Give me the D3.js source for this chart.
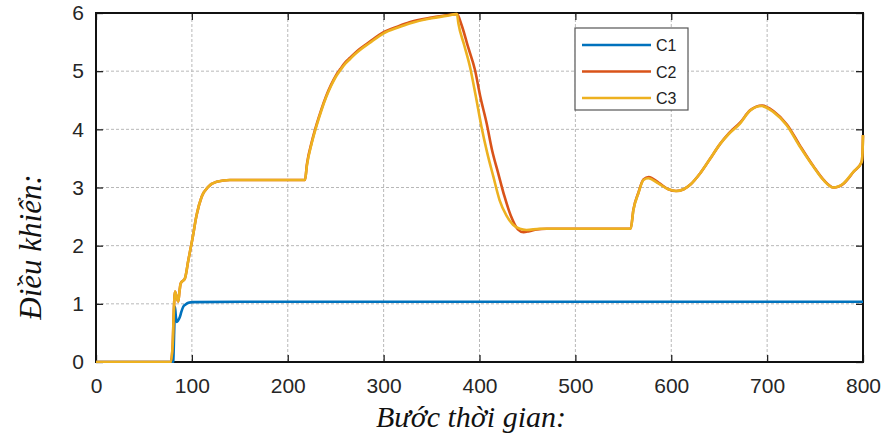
<!DOCTYPE html>
<html>
<head>
<meta charset="utf-8">
<script src="https://cdn.jsdelivr.net/npm/d3@7"></script>
<style>
  body { margin: 0; background: #fff; }
  .tick text { font-family: "Liberation Sans", Arial, sans-serif; fill: #262626; }
</style>
</head>
<body>
<div id="chart"></div>
<script>
// frame
const FRAME_WIDTH = 882;
const FRAME_HEIGHT = 439;
const MARGINS = {left: 96, right: 19, top: 13, bottom: 77};

// tick values
const xTicks = [0, 100, 200, 300, 400, 500, 600, 700, 800];
const yTicks = [0, 1, 2, 3, 4, 5, 6];

// series names / colours
const seriesNames = ["C1", "C2", "C3"];
const seriesColors = ["#0072BD", "#D95319", "#EDB120"];

// [time step, control value]
const c1 = [[0,0],[80,0],[80.6,0.02],[81.5,0.5],[82.4,0.95],[83.2,0.8],[84.1,0.69],[85.5,0.71],
  [87.6,0.78],[89,0.86],[91,0.95],[93.5,0.99],[96.3,1.02],[101,1.03],[150,1.035],[800,1.035]];

const c2 = [[0,0],[78,0],[80,0.3],[81,0.8],[82.4,1.21],[84,1.12],[85.8,1.04],[87,1.2],[88.3,1.35],
  [92.8,1.44],[96.3,1.75],[100.4,2.1],[105,2.53],[110.2,2.84],[117,3.01],[125.8,3.1],[139.7,3.13],
  [218,3.13],[220,3.4],[225,3.78],[230,4.08],[235,4.34],[240,4.57],[245,4.76],[250,4.92],[255,5.04],
  [260,5.15],[265,5.23],[270,5.31],[275,5.38],[285,5.5],[300,5.67],[315,5.77],[327,5.84],[350,5.92],
  [365,5.96],[376.5,5.98],[381.4,5.79],[388,5.42],[395.3,5.02],[401,4.55],[407.5,4.1],[413,3.65],
  [419.6,3.24],[426,2.85],[433,2.5],[440,2.28],[446,2.23],[452,2.25],[460,2.28],[470,2.29],
  [557.7,2.29],[560.5,2.62],[565.7,2.91],[571,3.14],[576.5,3.18],[587,3.08],[597,2.97],[605,2.94],
  [613,2.97],[620,3.05],[630,3.24],[640,3.48],[651,3.75],[660,3.93],[672,4.12],[682.5,4.33],
  [694.8,4.41],[706.8,4.31],[720.8,4.08],[734.6,3.71],[748.5,3.36],[759,3.13],[769.5,3.0],[780,3.07],
  [790.2,3.27],[798.6,3.44],[799.5,3.6],[800,3.9]];

const c3 = [[0,0],[78,0],[80,0.3],[81,0.8],[82.4,1.21],[84,1.12],[85.8,1.04],[87,1.2],[88.3,1.35],
  [92.8,1.44],[96.3,1.75],[100.4,2.1],[105,2.53],[110.2,2.84],[117,3.01],[125.8,3.1],[139.7,3.13],
  [218,3.13],[220,3.38],[225,3.76],[230,4.06],[235,4.32],[240,4.55],[245,4.74],[250,4.9],[255,5.02],
  [260,5.13],[265,5.21],[270,5.29],[275,5.36],[285,5.48],[300,5.65],[315,5.75],[327,5.82],[350,5.91],
  [365,5.95],[376.5,5.98],[378,5.82],[384,5.45],[390,5.08],[396,4.58],[402,4.05],[408,3.6],
  [414.4,3.19],[421,2.78],[428,2.52],[435,2.36],[442,2.29],[449,2.27],[463,2.29],[557.7,2.29],
  [560.5,2.61],[565.7,2.9],[571,3.13],[576,3.16],[586.5,3.07],[597,2.97],[605,2.94],[613,2.97],
  [620,3.05],[630,3.24],[640,3.48],[651,3.75],[660,3.92],[671.7,4.1],[682,4.32],[694.3,4.4],
  [706.4,4.3],[720.4,4.07],[734.3,3.7],[748.2,3.36],[758.6,3.13],[769,3.0],[779.5,3.07],
  [789.9,3.27],[798.6,3.44],[799.5,3.6],[800,3.9]];

const series = [c1, c2, c3];

const svg = d3.select("#chart")
  .append("svg")
    .attr("width", FRAME_WIDTH)
    .attr("height", FRAME_HEIGHT);

const x_scale = d3.scaleLinear()
  .domain([0, 800])
  .range([MARGINS.left, FRAME_WIDTH - MARGINS.right]);

const y_scale = d3.scaleLinear()
  .domain([0, 6])
  .range([FRAME_HEIGHT - MARGINS.bottom, MARGINS.top]);

const x0 = x_scale.range()[0], x1 = x_scale.range()[1];
const y0 = y_scale.range()[0], y1 = y_scale.range()[1];

// dotted grid
svg.append("g")
  .selectAll("line")
  .data(xTicks.slice(1, -1))
  .enter()
  .append("line")
    .attr("x1", d => x_scale(d)).attr("x2", d => x_scale(d))
    .attr("y1", y0).attr("y2", y1)
    .attr("stroke", "#b8b8b8").attr("stroke-dasharray", "3,2");

svg.append("g")
  .selectAll("line")
  .data(yTicks.slice(1, -1))
  .enter()
  .append("line")
    .attr("x1", x0).attr("x2", x1)
    .attr("y1", d => y_scale(d)).attr("y2", d => y_scale(d))
    .attr("stroke", "#b8b8b8").attr("stroke-dasharray", "3,2");

// axes, ticks pointing inward like matlab
svg.append("g")
  .attr("transform", "translate(0," + y0 + ")")
  .call(d3.axisBottom(x_scale).tickValues(xTicks).tickSizeInner(-7).tickSizeOuter(0).tickPadding(16))
  .attr("font-size", "21px");

svg.append("g")
  .attr("transform", "translate(" + x0 + ",0)")
  .call(d3.axisLeft(y_scale).tickValues(yTicks).tickFormat(d3.format("d"))
    .tickSizeInner(-7).tickSizeOuter(0).tickPadding(12))
  .attr("font-size", "21px");

svg.append("g")
  .attr("transform", "translate(0," + y1 + ")")
  .call(d3.axisTop(x_scale).tickValues(xTicks).tickSizeInner(-7).tickSizeOuter(0).tickFormat(""));

svg.append("g")
  .attr("transform", "translate(" + x1 + ",0)")
  .call(d3.axisRight(y_scale).tickValues(yTicks).tickSizeInner(-7).tickSizeOuter(0).tickFormat(""));

svg.selectAll(".domain").remove();
svg.selectAll(".tick line").attr("stroke", "#222").attr("stroke-width", 1.3);

svg.append("rect")
  .attr("x", x0).attr("y", y1)
  .attr("width", x1 - x0).attr("height", y0 - y1)
  .attr("fill", "none")
  .attr("stroke", "#111")
  .attr("stroke-width", 2);

// lines (drawn over the box so the last jump at 800 shows)
svg.append("clipPath").attr("id", "plot-clip")
  .append("rect")
    .attr("x", x0).attr("y", y1 - 1)
    .attr("width", x1 - x0 + 2).attr("height", y0 - y1 + 2);

const line = d3.line()
  .x(d => x_scale(d[0]))
  .y(d => y_scale(d[1]))
  .curve(d3.curveMonotoneX);

svg.append("g")
  .attr("clip-path", "url(#plot-clip)")
  .selectAll("path")
  .data(series)
  .enter()
  .append("path")
    .attr("d", d => line(d))
    .attr("fill", "none")
    .attr("stroke", (d, i) => seriesColors[i])
    .attr("stroke-width", 2.6)
    .attr("stroke-linejoin", "round");

// axis titles
svg.append("text")
  .attr("x", 471).attr("y", 427)
  .attr("text-anchor", "middle")
  .attr("font-family", "'Liberation Serif', 'Times New Roman', serif")
  .attr("font-style", "italic")
  .attr("font-size", "30px")
  .attr("fill", "#111")
  .text("Bước thời gian:");

svg.append("text")
  .attr("transform", "translate(41,247) rotate(-90)")
  .attr("text-anchor", "middle")
  .attr("font-family", "'Liberation Serif', 'Times New Roman', serif")
  .attr("font-style", "italic")
  .attr("font-size", "31px")
  .attr("fill", "#111")
  .text("Điều khiển:");

// legend
const legend = svg.append("g");
legend.append("rect")
  .attr("x", 575).attr("y", 28)
  .attr("width", 113).attr("height", 82)
  .attr("fill", "#fff")
  .attr("stroke", "#555")
  .attr("stroke-width", 1.2);

const items = legend.selectAll("g.item")
  .data(seriesNames)
  .enter()
  .append("g")
    .attr("class", "item")
    .attr("transform", (d, i) => "translate(0," + (45 + i * 26.5) + ")");

items.append("line")
  .attr("x1", 582).attr("x2", 651)
  .attr("stroke", (d, i) => seriesColors[i])
  .attr("stroke-width", 2.6);

items.append("text")
  .attr("x", 656).attr("y", 6)
  .attr("font-family", "'Liberation Sans', Arial, sans-serif")
  .attr("font-size", "16px")
  .attr("fill", "#222")
  .text(d => d);
</script>
</body>
</html>
